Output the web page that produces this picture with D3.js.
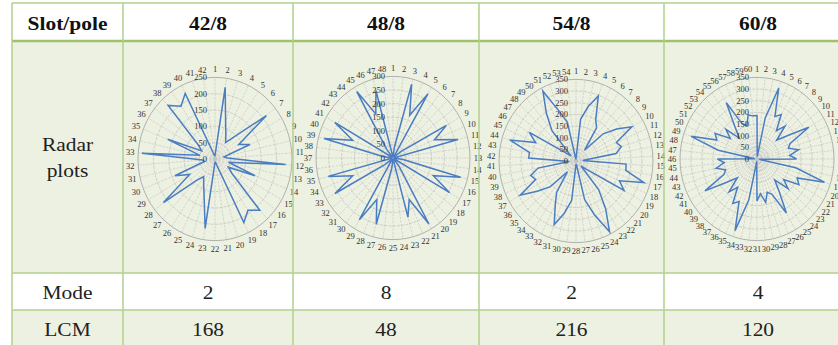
<!DOCTYPE html>
<html>
<head>
<meta charset="utf-8">
<script src="https://cdn.jsdelivr.net/npm/d3@7"></script>
<style>
  body { margin: 0; background: #ffffff; }
  svg { display: block; }
</style>
</head>
<body>
<svg id="chart" width="838" height="345"></svg>
<script>
// ---- Table content ----
const rowHeads = ["Slot/pole", "Radar plots", "Mode", "LCM"];
const slotPole = ["42/8", "48/8", "54/8", "60/8"];
const modes = ["2", "8", "2", "4"];
const lcms = ["168", "48", "216", "120"];

// ---- Radar series (one value per slot, slot 1 at the top, clockwise) ----
const radialMax = [250, 300, 350, 350];
const radar42 = [10, 222, 117, 81, 61, 93, 213, 89, 122, 30, 40, 230, 45, 140, 50, 70, 214, 190, 216, 20, 10,
                 10, 215, 120, 85, 65, 90, 214, 95, 140, 35, 40, 238, 50, 165, 50, 70, 224, 196, 223, 20, 10];
const radar48 = [5, 40, 281, 170, 273, 5,  5, 40, 240, 175, 262, 5,  5, 40, 273, 170, 255, 5,  5, 40, 280, 165, 225, 5,
                 5, 40, 252, 165, 262, 5,  5, 40, 261, 170, 261, 5,  5, 40, 278, 170, 262, 5,  5, 40, 282, 175, 257, 5];
const radar54 = [10, 180, 240, 297, 200, 170, 60, 170, 230, 293, 200, 215, 185, 30, 228, 230, 322, 215, 252, 60, 30, 160, 245, 340, 245, 170, 15,
                 15, 170, 230, 290, 210, 160, 60, 160, 215, 293, 200, 215, 175, 30, 215, 215, 315, 200, 245, 60, 30, 170, 245, 335, 230, 170, 10];
const radar60 = [186, 10, 180, 320, 200, 220, 150, 190, 120, 170, 272, 165, 150, 193, 150,
                 180, 10, 180, 322, 200, 220, 150, 190, 120, 170, 267, 165, 150, 190, 150,
                 180, 10, 180, 323, 200, 220, 150, 190, 120, 170, 273, 165, 150, 190, 150,
                 180, 10, 180, 315, 200, 220, 150, 190, 120, 170, 279, 165, 150, 193, 186];
const radarSeries = [radar42, radar48, radar54, radar60];
const radarCenters = [[215, 159], [393, 158], [576, 161], [757, 159]];

// ---- Layout ----
const colX = [12, 123, 293, 479, 664, 852];
const rowY = [3, 41, 273, 310, 352];
const rowFill = ["#ffffff", "#edf1e1", "#ffffff", "#edf1e1"];
const gridColor = "#b2cf8c";

// pick the first serif face the system actually has
function pickFont(candidates) {
  const ctx = document.createElement("canvas").getContext("2d");
  const sample = "Slot/pole 0123456789 LCM Mode";
  const widthWith = f => { ctx.font = "40px " + f; return ctx.measureText(sample).width; };
  const baseSans = widthWith("sans-serif"), baseMono = widthWith("monospace");
  for (const c of candidates) {
    const w1 = widthWith("'" + c + "', sans-serif"), w2 = widthWith("'" + c + "', monospace");
    if (w1 !== baseSans || w2 !== baseMono) return "'" + c + "'";
  }
  return "serif";
}
const serif = pickFont(["Liberation Serif", "Times New Roman", "Tinos", "DejaVu Serif", "Noto Serif"]) + ", serif";

const svg = d3.select("#chart");
svg.append("rect").attr("width", 838).attr("height", 345).attr("fill", "#ffffff");

svg.selectAll("rect.row").data(rowFill).join("rect")
  .attr("class", "row")
  .attr("x", colX[0]).attr("y", (d, i) => rowY[i])
  .attr("width", colX[5] - colX[0]).attr("height", (d, i) => rowY[i + 1] - rowY[i])
  .attr("fill", d => d);

// ---- Radar plots ----
function drawRadar(values, maxV, cx, cy) {
  const g = svg.append("g");
  const n = values.length;
  const R = 77, ky = 1.06;
  const r = d3.scaleLinear().domain([0, maxV]).range([0, R]);
  const ang = d3.scaleLinear().domain([0, n]).range([0, 2 * Math.PI]);
  const px = (i, v) => cx + r(v) * Math.sin(ang(i));
  const py = (i, v) => cy - r(v) * Math.cos(ang(i)) * ky;
  const ticks = d3.range(0, maxV + 1, 50);

  g.selectAll("line.spoke").data(d3.range(n)).join("line")
    .attr("x1", cx).attr("y1", cy)
    .attr("x2", i => px(i, maxV)).attr("y2", i => py(i, maxV))
    .attr("stroke", "#c2c2c2").attr("stroke-width", 0.6)
    .attr("stroke-dasharray", "2.5,1.2");

  g.selectAll("ellipse.ring").data(ticks.slice(1)).join("ellipse")
    .attr("cx", cx).attr("cy", cy)
    .attr("rx", t => r(t)).attr("ry", t => r(t) * ky)
    .attr("fill", "none")
    .attr("stroke", t => t === maxV ? "#a8a8a8" : "#bcbcbc")
    .attr("stroke-width", t => t === maxV ? 0.9 : 0.7)
    .attr("stroke-dasharray", t => t === maxV ? null : "3,1.2");

  const line = d3.line()
    .x(d => px(d[0], d[1])).y(d => py(d[0], d[1]))
    .curve(d3.curveLinearClosed);
  g.append("path")
    .attr("d", line(values.map((v, i) => [i, v])))
    .attr("fill", "none").attr("stroke", "#4a7dc2")
    .attr("stroke-width", 1.5).attr("stroke-linejoin", "miter");

  g.selectAll("text.tick").data(ticks).join("text")
    .attr("x", cx - 8).attr("y", t => py(0, t) + 3)
    .attr("text-anchor", "end")
    .style("font-family", serif).attr("font-size", 8.5).attr("fill", "#333")
    .text(t => t);

  g.selectAll("text.cat").data(d3.range(n)).join("text")
    .attr("x", i => cx + (R + 8) * Math.sin(ang(i)))
    .attr("y", i => cy - (R + 8) * Math.cos(ang(i)) * ky + 3)
    .attr("text-anchor", "middle")
    .style("font-family", serif).attr("font-size", 8.5).attr("fill", "#333")
    .text(i => i + 1);
}

radarSeries.forEach((vals, k) => drawRadar(vals, radialMax[k], radarCenters[k][0], radarCenters[k][1]));

// ---- Grid lines ----
const grid = svg.append("g");
rowY.slice(0, 4).forEach((y, i) => {
  grid.append("line").attr("x1", colX[0]).attr("x2", 838).attr("y1", y).attr("y2", y)
    .attr("stroke", i === 1 ? "#9ec16a" : gridColor)
    .attr("stroke-width", i === 1 ? 2.4 : 1.5);
});
colX.slice(0, 5).forEach(x => {
  grid.append("line").attr("x1", x).attr("x2", x).attr("y1", rowY[0]).attr("y2", 345)
    .attr("stroke", gridColor).attr("stroke-width", 1.5);
});

// ---- Cell text (slightly widened face) ----
const colCenter = i => (colX[i] + colX[i + 1]) / 2;
function cellText(str, x, y, bold) {
  svg.append("g").attr("transform", `translate(${x},${y}) scale(1.13,1)`)
    .append("text")
    .attr("text-anchor", "middle").style("font-family", serif)
    .attr("font-size", 19).attr("font-weight", bold ? "bold" : "normal")
    .attr("fill", bold ? "#111" : "#222")
    .text(str);
}

cellText(rowHeads[0], colCenter(0), 30, true);
slotPole.forEach((d, i) => cellText(d, colCenter(i + 1), 30, true));

rowHeads[1].split(" ").forEach((w, j) => cellText(w, colCenter(0), 151 + j * 26, false));

[[rowHeads[2], modes, 299], [rowHeads[3], lcms, 336]].forEach(([head, vals, y]) => {
  cellText(head, colCenter(0), y, false);
  vals.forEach((v, i) => cellText(v, colCenter(i + 1), y, false));
});
</script>
</body>
</html>
